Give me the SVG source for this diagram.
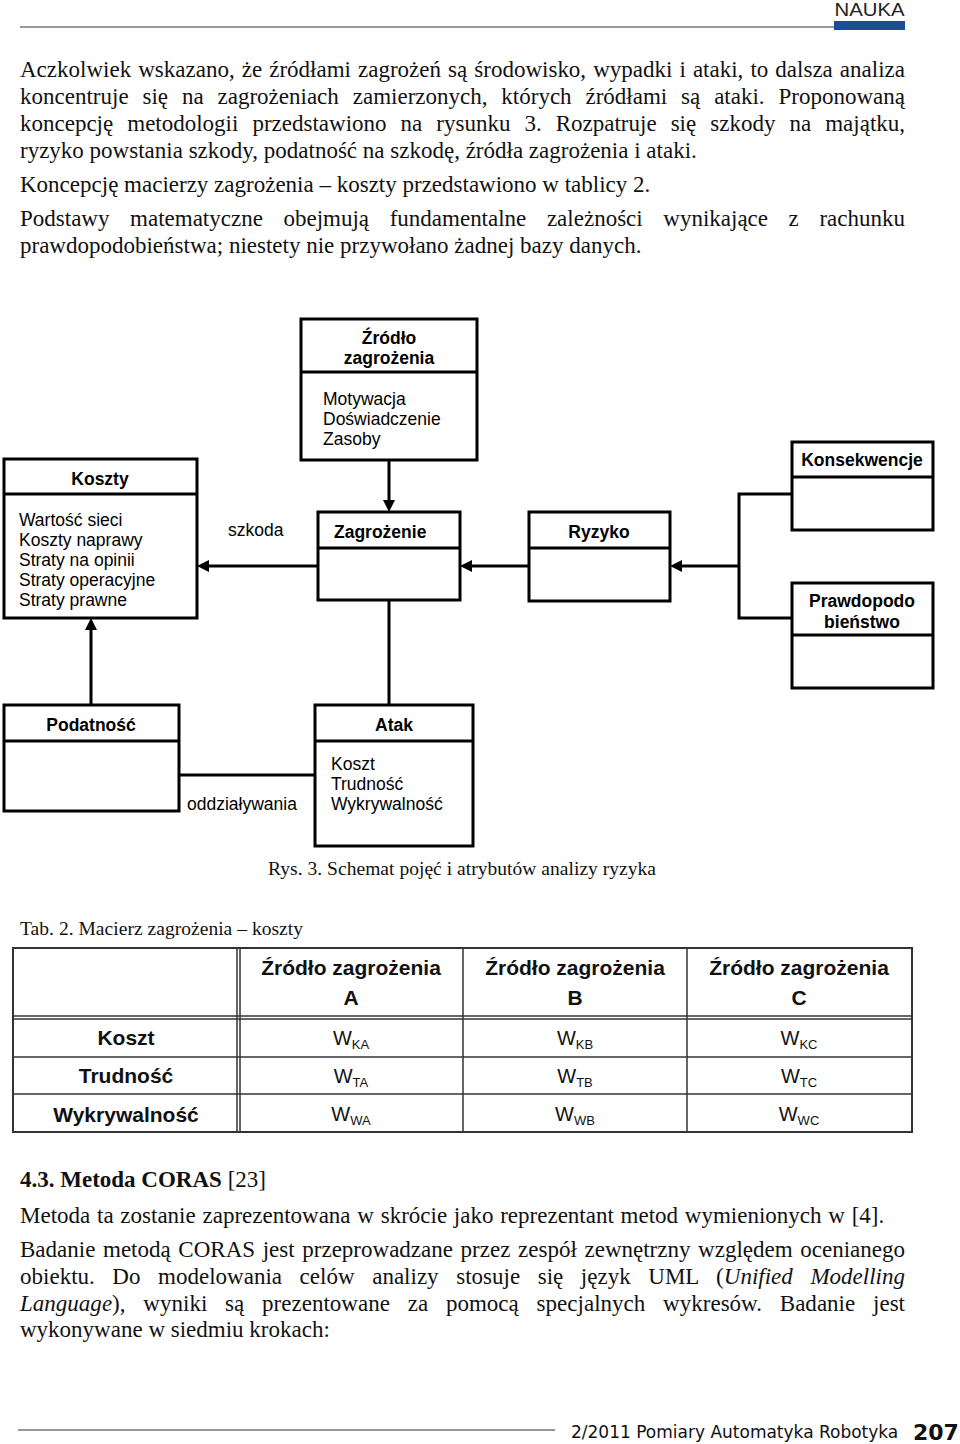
<svg xmlns="http://www.w3.org/2000/svg" width="960" height="1444" viewBox="0 0 960 1444">
<style>
.body{font-family:"Liberation Serif","Times New Roman",serif;font-size:23px;fill:#111}
.cap{font-family:"Liberation Serif","Times New Roman",serif;font-size:19.5px;fill:#111}
.dt{font-family:"Liberation Sans",Arial,sans-serif;font-size:17.5px;fill:#000}
.db{font-family:"Liberation Sans",Arial,sans-serif;font-size:17.5px;font-weight:bold;fill:#000}
.mid{text-anchor:middle}
.box{fill:#fff;stroke:#000;stroke-width:3}
.div{stroke:#000;stroke-width:3}
.conn{stroke:#000;stroke-width:3;fill:none}
.tb{font-family:"Liberation Sans",Arial,sans-serif;font-size:21px;font-weight:bold;text-anchor:middle;fill:#111}
.tv{font-family:"Liberation Sans",Arial,sans-serif;font-size:20px;text-anchor:middle;fill:#111}
.tl{stroke:#333;stroke-width:1.5}
.sub{font-size:13px}
</style>
<defs>
<marker id="arr" markerUnits="userSpaceOnUse" markerWidth="14" markerHeight="14" refX="8" refY="6" orient="auto">
<path d="M0,0 L12,6 L0,12 z" fill="#000"/>
</marker>
</defs>
<rect width="960" height="1444" fill="#fff"/>

<!-- header -->
<line x1="20" y1="27" x2="834" y2="27" stroke="#777" stroke-width="1.5"/>
<rect x="834" y="21" width="71" height="9" fill="#1d4c94"/>
<text x="869.5" y="16" class="mid" font-family="Liberation Sans,Arial,sans-serif" font-size="18" fill="#222" textLength="70" lengthAdjust="spacingAndGlyphs">NAUKA</text>

<!-- body text top -->
<text class="body" x="20" y="77" word-spacing="1.3" textLength="885" lengthAdjust="spacing">Aczkolwiek wskazano, że źródłami zagrożeń są środowisko, wypadki i ataki, to dalsza analiza</text>
<text class="body" x="20" y="104" word-spacing="8.1" textLength="885" lengthAdjust="spacing">koncentruje się na zagrożeniach zamierzonych, których źródłami są ataki. Proponowaną</text>
<text class="body" x="20" y="131" word-spacing="8.3" textLength="885" lengthAdjust="spacing">koncepcję metodologii przedstawiono na rysunku 3. Rozpatruje się szkody na majątku,</text>
<text class="body" x="20" y="158">ryzyko powstania szkody, podatność na szkodę, źródła zagrożenia i ataki.</text>
<text class="body" x="20" y="192">Koncepcję macierzy zagrożenia – koszty przedstawiono w tablicy 2.</text>
<text class="body" x="20" y="226" word-spacing="14.8" textLength="885" lengthAdjust="spacing">Podstawy matematyczne obejmują fundamentalne zależności wynikające z rachunku</text>
<text class="body" x="20" y="253">prawdopodobieństwa; niestety nie przywołano żadnej bazy danych.</text>

<!-- connectors -->
<g id="connectors">
<line class="conn" x1="389" y1="460" x2="389" y2="508" marker-end="url(#arr)"/>
<line class="conn" x1="318" y1="566" x2="201" y2="566" marker-end="url(#arr)"/>
<line class="conn" x1="529" y1="566" x2="464" y2="566" marker-end="url(#arr)"/>
<line class="conn" x1="739" y1="566" x2="674" y2="566" marker-end="url(#arr)"/>
<path class="conn" d="M792,494 H739 V618 H792"/>
<line class="conn" x1="389" y1="600" x2="389" y2="705"/>
<line class="conn" x1="91" y1="705" x2="91" y2="622" marker-end="url(#arr)"/>
<line class="conn" x1="179" y1="775" x2="315" y2="775"/>
<text class="dt" x="228" y="536">szkoda</text>
<text class="dt" x="187" y="810">oddziaływania</text>
</g>

<!-- nodes -->
<g id="zrodlo">
<rect class="box" x="301" y="319" width="176" height="141"/>
<line class="div" x1="301" y1="372" x2="477" y2="372"/>
<text class="db mid" x="389" y="344">Źródło</text>
<text class="db mid" x="389" y="364">zagrożenia</text>
<text class="dt" x="323" y="405">Motywacja</text>
<text class="dt" x="323" y="425">Doświadczenie</text>
<text class="dt" x="323" y="445">Zasoby</text>
</g>

<g id="koszty">
<rect class="box" x="4" y="459" width="193" height="159"/>
<line class="div" x1="4" y1="494" x2="197" y2="494"/>
<text class="db mid" x="100" y="485">Koszty</text>
<text class="dt" x="19" y="526">Wartość sieci</text>
<text class="dt" x="19" y="546">Koszty naprawy</text>
<text class="dt" x="19" y="566">Straty na opinii</text>
<text class="dt" x="19" y="586">Straty operacyjne</text>
<text class="dt" x="19" y="606">Straty prawne</text>
</g>

<g id="zagrozenie">
<rect class="box" x="318" y="512" width="142" height="88"/>
<line class="div" x1="318" y1="548" x2="460" y2="548"/>
<text class="db" x="334" y="538">Zagrożenie</text>
</g>

<g id="ryzyko">
<rect class="box" x="529" y="512" width="141" height="89"/>
<line class="div" x1="529" y1="548" x2="670" y2="548"/>
<text class="db mid" x="599" y="538">Ryzyko</text>
</g>

<g id="konsekwencje">
<rect class="box" x="792" y="442" width="141" height="88"/>
<line class="div" x1="792" y1="477" x2="933" y2="477"/>
<text class="db mid" x="862" y="466" font-size="15.5">Konsekwencje</text>
</g>

<g id="prawdopodobienstwo">
<rect class="box" x="792" y="583" width="141" height="105"/>
<line class="div" x1="792" y1="635" x2="933" y2="635"/>
<text class="db mid" x="862" y="607">Prawdopodo</text>
<text class="db mid" x="862" y="628">bieństwo</text>
</g>

<g id="podatnosc">
<rect class="box" x="4" y="705" width="175" height="106"/>
<line class="div" x1="4" y1="741" x2="179" y2="741"/>
<text class="db mid" x="91" y="731">Podatność</text>
</g>

<g id="atak">
<rect class="box" x="315" y="705" width="158" height="141"/>
<line class="div" x1="315" y1="741" x2="473" y2="741"/>
<text class="db mid" x="394" y="731">Atak</text>
<text class="dt" x="331" y="770">Koszt</text>
<text class="dt" x="331" y="790">Trudność</text>
<text class="dt" x="331" y="810">Wykrywalność</text>
</g>

<!-- captions -->
<text class="cap" x="268" y="875" textLength="388" lengthAdjust="spacing">Rys. 3. Schemat pojęć i atrybutów analizy ryzyka</text>
<text class="cap" x="20" y="935" textLength="283" lengthAdjust="spacing">Tab. 2. Macierz zagrożenia – koszty</text>

<!-- table -->
<g id="table">
<rect x="13" y="948" width="899" height="184" fill="#fff" stroke="#333" stroke-width="2"/>
<line class="tl" x1="237" y1="948" x2="237" y2="1132"/>
<line class="tl" x1="240" y1="948" x2="240" y2="1132"/>
<line class="tl" x1="463" y1="948" x2="463" y2="1132"/>
<line class="tl" x1="687" y1="948" x2="687" y2="1132"/>
<line class="tl" x1="13" y1="1016" x2="912" y2="1016"/>
<line class="tl" x1="13" y1="1019" x2="912" y2="1019"/>
<line class="tl" x1="13" y1="1057" x2="912" y2="1057"/>
<line class="tl" x1="13" y1="1094" x2="912" y2="1094"/>
<text class="tb" x="351" y="975">Źródło zagrożenia</text>
<text class="tb" x="351" y="1005">A</text>
<text class="tb" x="575" y="975">Źródło zagrożenia</text>
<text class="tb" x="575" y="1005">B</text>
<text class="tb" x="799" y="975">Źródło zagrożenia</text>
<text class="tb" x="799" y="1005">C</text>
<text class="tb" x="126" y="1045">Koszt</text>
<text class="tb" x="126" y="1083">Trudność</text>
<text class="tb" x="126" y="1122">Wykrywalność</text>
<text class="tv" x="351" y="1045">W<tspan class="sub" dy="4">KA</tspan></text>
<text class="tv" x="575" y="1045">W<tspan class="sub" dy="4">KB</tspan></text>
<text class="tv" x="799" y="1045">W<tspan class="sub" dy="4">KC</tspan></text>
<text class="tv" x="351" y="1083">W<tspan class="sub" dy="4">TA</tspan></text>
<text class="tv" x="575" y="1083">W<tspan class="sub" dy="4">TB</tspan></text>
<text class="tv" x="799" y="1083">W<tspan class="sub" dy="4">TC</tspan></text>
<text class="tv" x="351" y="1121">W<tspan class="sub" dy="4">WA</tspan></text>
<text class="tv" x="575" y="1121">W<tspan class="sub" dy="4">WB</tspan></text>
<text class="tv" x="799" y="1121">W<tspan class="sub" dy="4">WC</tspan></text>
</g>

<!-- body text bottom -->
<text class="body" x="20" y="1187"><tspan font-weight="bold">4.3. Metoda CORAS</tspan> [23]</text>
<text class="body" x="20" y="1223" word-spacing="1">Metoda ta zostanie zaprezentowana w skrócie jako reprezentant metod wymienionych w [4].</text>
<text class="body" x="20" y="1257" word-spacing="1.9" textLength="885" lengthAdjust="spacing">Badanie metodą CORAS jest przeprowadzane przez zespół zewnętrzny względem ocenianego</text>
<text class="body" x="20" y="1284" word-spacing="11.8" textLength="885" lengthAdjust="spacing">obiektu. Do modelowania celów analizy stosuje się język UML (<tspan font-style="italic">Unified Modelling</tspan></text>
<text class="body" x="20" y="1311" word-spacing="12" textLength="885" lengthAdjust="spacing"><tspan font-style="italic">Language</tspan>), wyniki są prezentowane za pomocą specjalnych wykresów. Badanie jest</text>
<text class="body" x="20" y="1337">wykonywane w siedmiu krokach:</text>

<!-- footer -->
<line x1="18" y1="1430" x2="555" y2="1430" stroke="#777" stroke-width="1.5"/>
<text x="571" y="1438" font-family="DejaVu Sans,sans-serif" font-size="17" fill="#111">2/2011 Pomiary Automatyka Robotyka</text>
<text x="913" y="1440" font-family="DejaVu Sans,sans-serif" font-size="22" font-weight="bold" fill="#111">207</text>
</svg>
